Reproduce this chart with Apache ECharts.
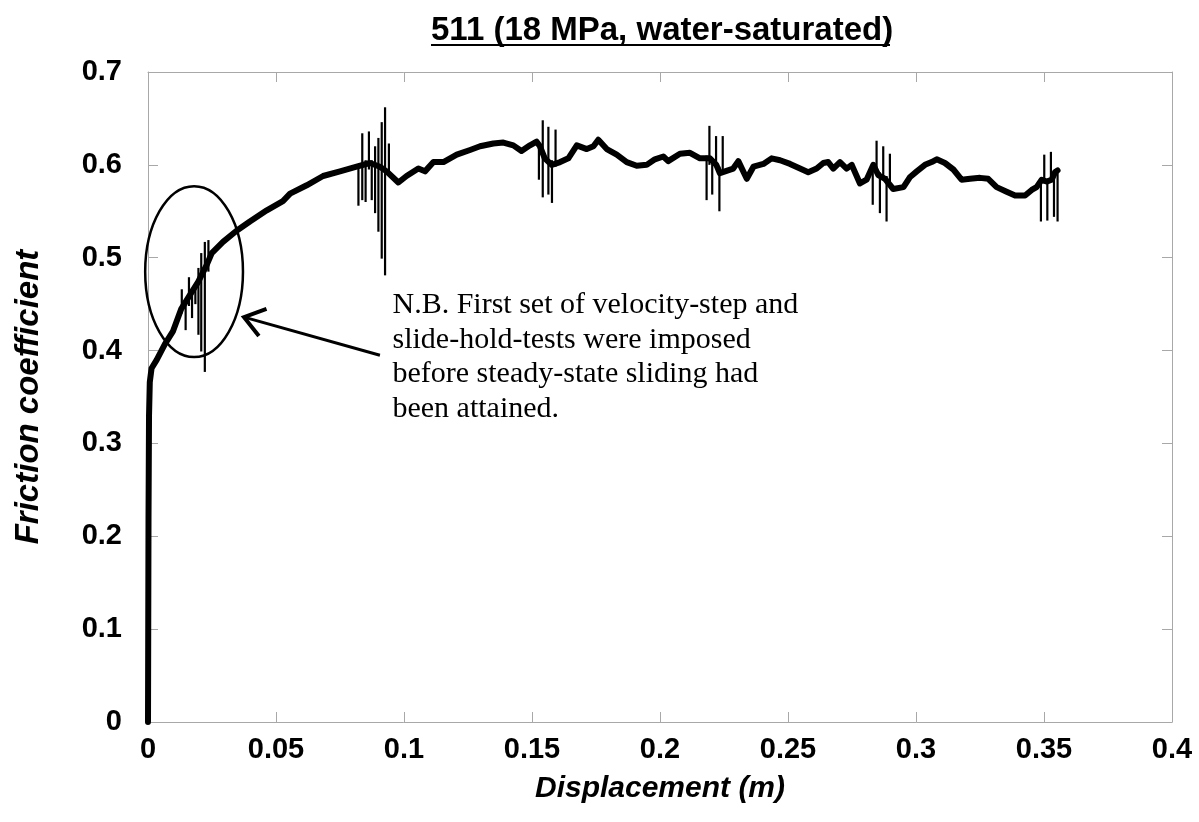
<!DOCTYPE html>
<html><head><meta charset="utf-8">
<script src="https://cdn.jsdelivr.net/npm/echarts@6/dist/echarts.min.js"></script>
<style>html,body{margin:0;padding:0;background:#fff}#c{width:1199px;height:822px}</style>
</head><body><div id="c"></div>
<script>
// ---- data ----
var dispX = [0, 0.0002, 0.0004, 0.0007, 0.0014, 0.0034, 0.0066, 0.0098, 0.0130, 0.0164, 0.0196, 0.0229, 0.0249, 0.0293, 0.0346, 0.0398, 0.0464, 0.0527, 0.0555, 0.0620, 0.0684, 0.0750, 0.0815, 0.0867, 0.0906, 0.0932, 0.0978, 0.1010, 0.1056, 0.1082, 0.1115, 0.1154, 0.1206, 0.1258, 0.1297, 0.1349, 0.1388, 0.1427, 0.1459, 0.1492, 0.1518, 0.1531, 0.1550, 0.1577, 0.1610, 0.1642, 0.1675, 0.1714, 0.1740, 0.1759, 0.1792, 0.1831, 0.1870, 0.1909, 0.1948, 0.1980, 0.2013, 0.2032, 0.2078, 0.2117, 0.2156, 0.2195, 0.2220, 0.2234, 0.2254, 0.2286, 0.2306, 0.2339, 0.2365, 0.2404, 0.2436, 0.2469, 0.2508, 0.2547, 0.2579, 0.2612, 0.2638, 0.2657, 0.2677, 0.2703, 0.2729, 0.2749, 0.2781, 0.2807, 0.2833, 0.2853, 0.2879, 0.2911, 0.2951, 0.2977, 0.3003, 0.3035, 0.3061, 0.3081, 0.3113, 0.3146, 0.3178, 0.3211, 0.3250, 0.3282, 0.3315, 0.3354, 0.3387, 0.3426, 0.3452, 0.3471, 0.3491, 0.3510, 0.3530, 0.3543, 0.3553];
var friction = [0, 0.22, 0.33, 0.366, 0.381, 0.390, 0.407, 0.421, 0.445, 0.460, 0.474, 0.492, 0.505, 0.517, 0.529, 0.539, 0.551, 0.561, 0.569, 0.578, 0.588, 0.593, 0.598, 0.602, 0.598, 0.593, 0.581, 0.588, 0.596, 0.593, 0.603, 0.603, 0.611, 0.616, 0.620, 0.623, 0.624, 0.621, 0.615, 0.621, 0.625, 0.620, 0.607, 0.600, 0.603, 0.607, 0.621, 0.617, 0.620, 0.627, 0.617, 0.611, 0.603, 0.599, 0.600, 0.606, 0.609, 0.604, 0.612, 0.613, 0.607, 0.607, 0.600, 0.591, 0.593, 0.596, 0.604, 0.585, 0.598, 0.601, 0.607, 0.605, 0.601, 0.596, 0.592, 0.596, 0.602, 0.603, 0.596, 0.603, 0.596, 0.600, 0.580, 0.584, 0.600, 0.589, 0.585, 0.574, 0.576, 0.587, 0.593, 0.600, 0.603, 0.606, 0.602, 0.595, 0.584, 0.585, 0.586, 0.585, 0.576, 0.571, 0.567, 0.567, 0.573, 0.576, 0.584, 0.582, 0.584, 0.592, 0.594];

// velocity-step / slide-hold transients (thin vertical excursions)
var spikeX    = [0.0132, 0.0147, 0.0160, 0.0172, 0.0185, 0.0197, 0.0208, 0.0222, 0.0236, 0.0822, 0.0837, 0.0850, 0.0863, 0.0874, 0.0887, 0.0900, 0.0913, 0.0926, 0.0941, 0.1527, 0.1542, 0.1564, 0.1578, 0.1592, 0.2182, 0.2193, 0.2204, 0.2219, 0.2232, 0.2245, 0.2831, 0.2846, 0.2859, 0.2872, 0.2885, 0.2898, 0.3488, 0.3501, 0.3513, 0.3527, 0.3539, 0.3553];
var spikeLow  = [0.440, 0.422, 0.448, 0.435, 0.450, 0.417, 0.399, 0.377, 0.485, 0.556, 0.562, 0.560, 0.595, 0.562, 0.548, 0.528, 0.499, 0.481, 0.591, 0.584, 0.565, 0.568, 0.559, 0.598, 0.562, 0.600, 0.568, 0.596, 0.550, 0.590, 0.557, 0.596, 0.548, 0.588, 0.539, 0.580, 0.539, 0.580, 0.540, 0.582, 0.544, 0.539];
var spikeHigh = [0.466, 0.452, 0.479, 0.462, 0.472, 0.489, 0.505, 0.517, 0.519, 0.600, 0.634, 0.605, 0.636, 0.605, 0.620, 0.629, 0.646, 0.662, 0.623, 0.625, 0.648, 0.641, 0.605, 0.638, 0.610, 0.642, 0.607, 0.631, 0.598, 0.631, 0.600, 0.626, 0.592, 0.620, 0.588, 0.612, 0.584, 0.611, 0.584, 0.614, 0.590, 0.594];

var xTickLabels = ['0', '0.05', '0.1', '0.15', '0.2', '0.25', '0.3', '0.35', '0.4'];
var yTickLabels = ['0', '0.1', '0.2', '0.3', '0.4', '0.5', '0.6', '0.7'];
var titleText = '511 (18 MPa, water-saturated)';
var xName = 'Displacement (m)';
var yName = 'Friction coefficient';
var noteLines = ['N.B. First set of velocity-step and', 'slide-hold-tests were imposed', 'before steady-state sliding had', 'been attained.'];
// annotation anchors in data units
var ellipseCenter = [0.018, 0.485], ellipseRadius = [0.0191, 0.092];
var arrowTail = [0.0906, 0.395], arrowTip = [0.0375, 0.436];
var noteAnchor = [0.0955, 0.467];

// ---- chart ----
var AX = '#a8a8a8';
var SANS = 'Liberation Sans, Arial, sans-serif';
var chart = echarts.init(document.getElementById('c'), null, {renderer: 'canvas'});

function axisBase(extra) {
  var o = {
    type: 'value',
    axisLine: {show: true, onZero: false, lineStyle: {color: AX, width: 1}},
    axisTick: {show: true, inside: true, length: 10, lineStyle: {color: AX, width: 1}},
    splitLine: {show: false}
  };
  for (var k in extra) o[k] = extra[k];
  return o;
}
var tickFont = {fontSize: 29, fontWeight: 'bold', color: '#000', fontFamily: SANS};

chart.setOption({
  animation: false,
  backgroundColor: '#fff',
  title: {
    text: titleText, left: 426, top: 9,
    textStyle: {fontSize: 33, fontWeight: 'bold', color: '#000', fontFamily: SANS}
  },
  grid: {left: 148, right: 27, top: 72, bottom: 100, containLabel: false},
  xAxis: [
    axisBase({min: 0, max: 0.4, interval: 0.05, position: 'bottom',
      axisLabel: Object.assign({margin: 13, formatter: function (v) { return xTickLabels[Math.round(v / 0.05)]; }}, tickFont),
      name: xName, nameLocation: 'middle', nameGap: 52,
      nameTextStyle: {fontSize: 30, fontWeight: 'bold', fontStyle: 'italic', color: '#000', fontFamily: SANS}}),
    axisBase({min: 0, max: 0.4, interval: 0.05, position: 'top', axisLabel: {show: false}})
  ],
  yAxis: [
    axisBase({min: 0, max: 0.7, interval: 0.1, position: 'left',
      axisLabel: Object.assign({margin: 26, formatter: function (v) { return yTickLabels[Math.round(v / 0.1)]; }}, tickFont),
      name: yName, nameLocation: 'middle', nameGap: 103, nameRotate: 90,
      nameTextStyle: {fontSize: 33, fontWeight: 'bold', fontStyle: 'italic', color: '#000', fontFamily: SANS}}),
    axisBase({min: 0, max: 0.7, interval: 0.1, position: 'right', axisLabel: {show: false}})
  ],
  series: [
    {
      type: 'custom', xAxisIndex: 0, yAxisIndex: 0, z: 3,
      data: spikeX.map(function (x, i) { return [x, spikeLow[i], spikeHigh[i]]; }),
      encode: {x: 0, y: [1, 2]},
      renderItem: function (params, api) {
        var p1 = api.coord([api.value(0), api.value(1)]);
        var p2 = api.coord([api.value(0), api.value(2)]);
        return {type: 'line', shape: {x1: p1[0], y1: p1[1], x2: p2[0], y2: p2[1]},
          style: {stroke: '#000', lineWidth: 2.2}};
      }
    },
    {
      type: 'line', xAxisIndex: 0, yAxisIndex: 0, z: 2,
      data: dispX.map(function (x, i) { return [x, friction[i]]; }),
      symbol: 'none', smooth: false,
      lineStyle: {color: '#000', width: 6, join: 'round', cap: 'round'}
    }
  ]
});

function px(p) { return chart.convertToPixel({xAxisIndex: 0, yAxisIndex: 0}, p); }
var c = px(ellipseCenter);
var r = px([ellipseCenter[0] + ellipseRadius[0], ellipseCenter[1] + ellipseRadius[1]]);
var tail = px(arrowTail), tip = px(arrowTip), na = px(noteAnchor);
var dx = tail[0] - tip[0], dy = tail[1] - tip[1];
var ang = Math.atan2(dy, dx), hl = 24, ha = 36 * Math.PI / 180;
var h1 = [tip[0] + hl * Math.cos(ang - ha), tip[1] + hl * Math.sin(ang - ha)];
var h2 = [tip[0] + hl * Math.cos(ang + ha), tip[1] + hl * Math.sin(ang + ha)];

chart.setOption({
  graphic: [
    {type: 'line', silent: true, z: 10, shape: {x1: 431, y1: 45, x2: 890, y2: 45}, style: {stroke: '#000', lineWidth: 2}},
    {type: 'ellipse', silent: true, z: 10, shape: {cx: c[0], cy: c[1], rx: r[0] - c[0], ry: c[1] - r[1]}, style: {fill: 'none', stroke: '#000', lineWidth: 2.5}},
    {type: 'line', silent: true, z: 10, shape: {x1: tail[0], y1: tail[1], x2: tip[0], y2: tip[1]}, style: {stroke: '#000', lineWidth: 3}},
    {type: 'polyline', silent: true, z: 10, shape: {points: [h1, tip, h2]}, style: {fill: 'none', stroke: '#000', lineWidth: 4, lineJoin: 'miter'}},
    {type: 'text', silent: true, z: 10, x: na[0], y: na[1],
      style: {text: noteLines.join('\n'), fill: '#000', font: '30px "Liberation Serif", "Times New Roman", serif', lineHeight: 34.5, textAlign: 'left', textVerticalAlign: 'top'}}
  ]
});
</script></body></html>
